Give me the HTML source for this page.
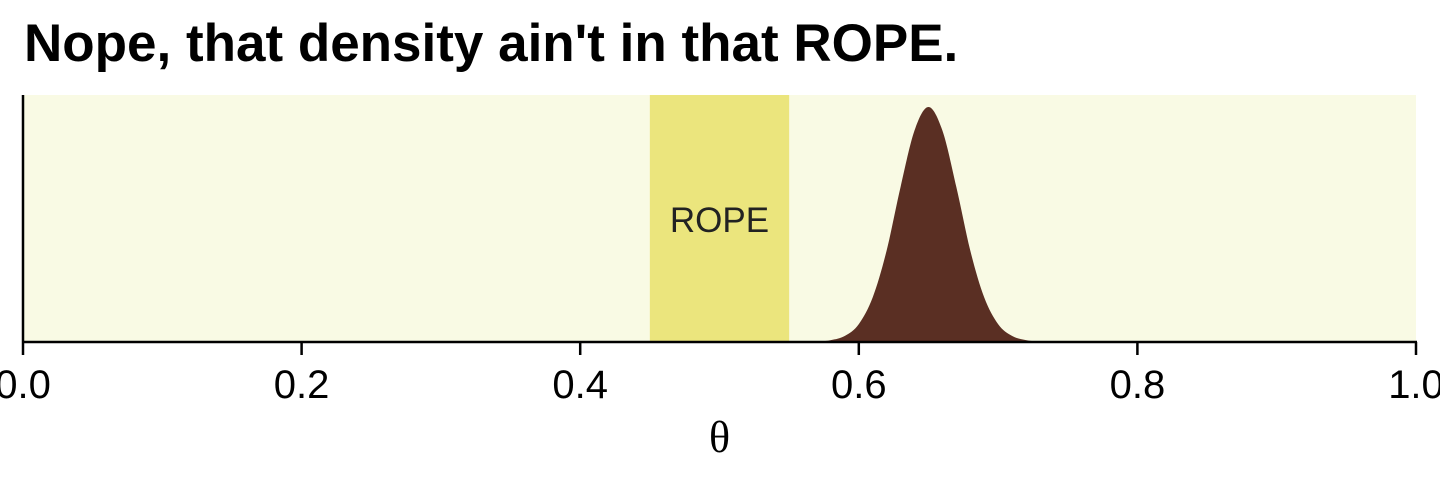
<!DOCTYPE html>
<html><head><meta charset="utf-8"><style>
html,body{margin:0;padding:0;background:#fff;}
svg{display:block;}
</style></head><body>
<svg id="chart" width="1440" height="480" xmlns="http://www.w3.org/2000/svg">
<text x="24" y="61" font-family="Liberation Sans, sans-serif" font-weight="bold" font-size="53" fill="#000">Nope, that density ain't in that ROPE.</text>
<g id="plot"></g>
</svg>
<script>
const ticks = [0, 0.2, 0.4, 0.6, 0.8, 1.0];
const tickLabels = ["0.0", "0.2", "0.4", "0.6", "0.8", "1.0"];
const rope = [0.45, 0.55];
const densX = [0.55,0.56,0.57,0.58,0.59,0.60,0.61,0.62,0.63,0.64,0.65,0.66,0.67,0.68,0.69,0.70,0.71,0.72,0.73,0.74,0.75];
const densY = [0.0,0.0,0.002,0.008,0.026,0.076,0.19,0.39,0.66,0.90,1.0,0.90,0.66,0.39,0.19,0.076,0.026,0.008,0.002,0.0,0.0];

const ns = "http://www.w3.org/2000/svg";
const g = document.getElementById('plot');
const L = 23, R = 1416, T = 95, B = 342, peakY = 107;
const xs = v => L + (R - L) * v;
const ys = v => B - (B - peakY) * v;
function mk(tag, attrs) { const e = document.createElementNS(ns, tag); for (const k in attrs) e.setAttribute(k, attrs[k]); g.appendChild(e); return e; }

let e = mk('rect', {x: L, y: T, width: R - L, height: B - T, fill: '#f9fae4'});



e = mk('rect', {x: xs(rope[0]), y: T, width: xs(rope[1]) - xs(rope[0]), height: B - T, fill: '#ebe57d'});



e = mk('text', {x: (xs(rope[0]) + xs(rope[1])) / 2, y: 232, 'text-anchor': 'middle', 'font-family': 'Liberation Sans, sans-serif', 'font-size': 35, fill: '#222'});
e.textContent = 'ROPE';



const P = densX.map((x, i) => [xs(x), ys(densY[i])]);
let d = 'M' + P[0][0].toFixed(1) + ',' + B + ' L' + P[0][0].toFixed(1) + ',' + P[0][1].toFixed(1);
for (let i = 0; i < P.length - 1; i++) {
  const p0 = P[Math.max(0, i - 1)], p1 = P[i], p2 = P[i + 1], p3 = P[Math.min(P.length - 1, i + 2)];
  const c1 = [p1[0] + (p2[0] - p0[0]) / 6, Math.min(B, p1[1] + (p2[1] - p0[1]) / 6)];
  const c2 = [p2[0] - (p3[0] - p1[0]) / 6, Math.min(B, p2[1] - (p3[1] - p1[1]) / 6)];
  d += ' C' + c1[0].toFixed(1) + ',' + c1[1].toFixed(1) + ' ' + c2[0].toFixed(1) + ',' + c2[1].toFixed(1) + ' ' + p2[0].toFixed(1) + ',' + p2[1].toFixed(1);
}
d += ' L' + P[P.length - 1][0].toFixed(1) + ',' + B + ' Z';
e = mk('path', {d: d, fill: '#5a2f23'});



e = mk('line', {x1: L, y1: T, x2: L, y2: B, stroke: '#000', 'stroke-width': 2.5});


e = mk('line', {x1: L - 1, y1: B, x2: R + 1, y2: B, stroke: '#000', 'stroke-width': 2.5});



ticks.forEach((t, i) => {
  let tk = mk('line', {x1: xs(t), y1: B, x2: xs(t), y2: B + 13, stroke: '#000', 'stroke-width': 2.5});
  
  
  let lb = mk('text', {x: xs(t), y: 398, 'text-anchor': 'middle', 'font-family': 'Liberation Sans, sans-serif', 'font-size': 40, fill: '#000'});
  lb.textContent = tickLabels[i];
  
  
});

e = mk('text', {x: (L + R) / 2, y: 452, 'text-anchor': 'middle', 'font-family': 'Liberation Serif, serif', 'font-size': 44, fill: '#000'});
e.textContent = 'θ';


</script>
</body></html>
